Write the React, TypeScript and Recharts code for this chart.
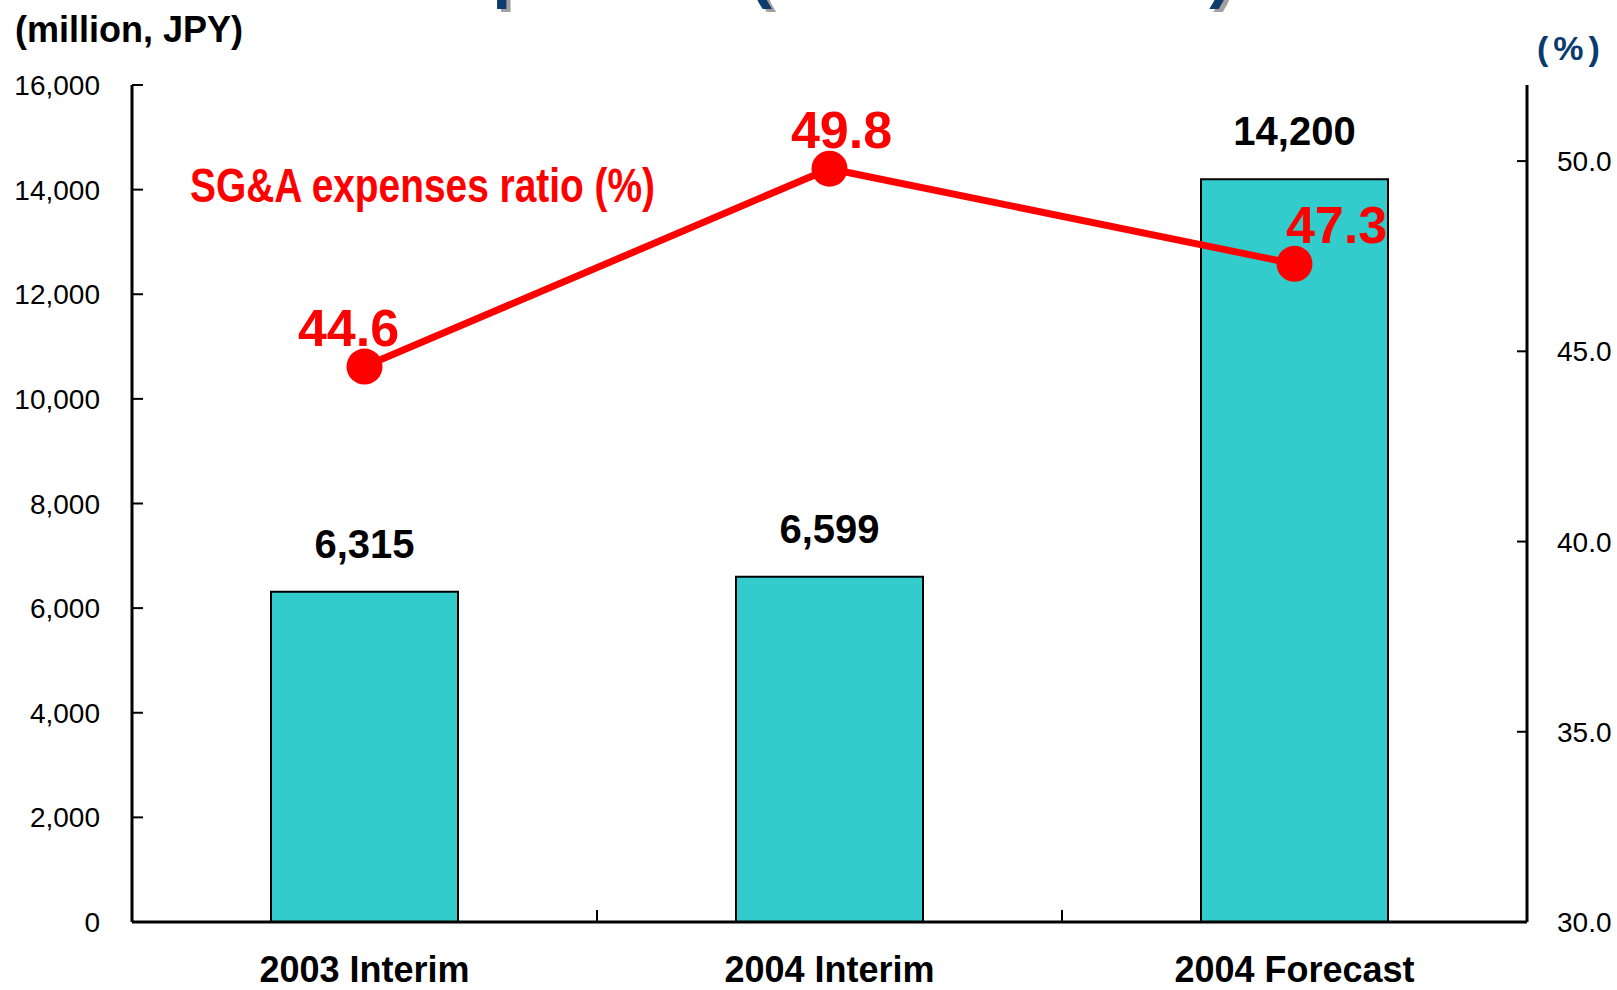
import React from 'react';
import { ComposedChart, Bar, Line, XAxis, YAxis, LabelList } from 'recharts';

const categories = ['2003 Interim', '2004 Interim', '2004 Forecast'];
const sgaExpenses = [6315, 6599, 14200];
const sgaRatio = [44.6, 49.8, 47.3];
const leftTicks = [0, 2000, 4000, 6000, 8000, 10000, 12000, 14000, 16000];
const rightTicks = [30, 35, 40, 45, 50];
const ratioLabelShift = [-16, 12, 42];

const data = categories.map((name, i) => ({
  name,
  expenses: sgaExpenses[i],
  ratio: sgaRatio[i],
}));

const FONT = '"Liberation Sans", Arial, Helvetica, sans-serif';
const NAVY = '#0B3A6E';
const RED = '#FF0000';

const fmtThousands = (v: number) => v.toLocaleString('en-US');

const LeftTick = (props: any) => {
  const { x, y, payload } = props;
  return (
    <g>
      <line x1={x} y1={y} x2={x + 11} y2={y} stroke="#000" strokeWidth={2} />
      <text x={x - 32} y={y + 10} textAnchor="end" fontSize={28} fontFamily={FONT} fill="#000">
        {fmtThousands(payload.value)}
      </text>
    </g>
  );
};

const RightTick = (props: any) => {
  const { x, y, payload } = props;
  return (
    <g>
      <line x1={x - 10} y1={y} x2={x} y2={y} stroke="#000" strokeWidth={2} />
      <text x={x + 30} y={y + 10} textAnchor="start" fontSize={28} fontFamily={FONT} fill="#000">
        {Number(payload.value).toFixed(1)}
      </text>
    </g>
  );
};

const XTick = (props: any) => {
  const { x, y, payload, index } = props;
  const off = payload && typeof payload.offset === 'number' ? payload.offset : 0;
  return (
    <g>
      {index > 0 && off > 0 ? (
        <line x1={x - off} y1={y} x2={x - off} y2={y - 12} stroke="#000" strokeWidth={2} />
      ) : null}
      <text x={x} y={y + 60} textAnchor="middle" fontSize={36} fontWeight="bold" fontFamily={FONT} fill="#000">
        {payload.value}
      </text>
    </g>
  );
};

const BarValueLabel = (props: any) => {
  const { x, y, width, value } = props;
  return (
    <text
      x={Number(x) + Number(width) / 2}
      y={Number(y) - 34}
      textAnchor="middle"
      fontSize={40}
      fontWeight="bold"
      fontFamily={FONT}
      fill="#000"
    >
      {fmtThousands(value)}
    </text>
  );
};

const RatioLabel = (props: any) => {
  const { x, y, value, index } = props;
  return (
    <text
      x={Number(x) + ratioLabelShift[index]}
      y={Number(y) - 21}
      textAnchor="middle"
      fontSize={52}
      fontWeight="bold"
      fontFamily={FONT}
      fill={RED}
    >
      {Number(value).toFixed(1)}
    </text>
  );
};

export default function App() {
  return (
    <div style={{ position: 'absolute', left: 0, top: 0, width: 1617, height: 990, background: '#fff' }}>
      <ComposedChart
        width={1617}
        height={990}
        data={data}
        margin={{ top: 85, right: 0, bottom: 0, left: 0 }}
        style={{ fontFamily: FONT }}
      >
        <defs>
          <filter id="titleShadow" x="-5%" y="-50%" width="110%" height="200%">
            <feDropShadow dx={4} dy={3} stdDeviation={0.5} floodColor="#A0A0A0" floodOpacity={1} />
          </filter>
        </defs>
        <XAxis
          dataKey="name"
          xAxisId="x"
          height={68}
          axisLine={{ stroke: '#000', strokeWidth: 3 }}
          tickLine={false}
          tickSize={0}
          tickMargin={0}
          tick={<XTick />}
          interval={0}
        />
        <YAxis
          yAxisId="left"
          orientation="left"
          width={132}
          domain={[0, 16000]}
          ticks={leftTicks}
          axisLine={{ stroke: '#000', strokeWidth: 3 }}
          tickLine={false}
          tickSize={0}
          tickMargin={0}
          tick={<LeftTick />}
          interval={0}
        />
        <YAxis
          yAxisId="right"
          orientation="right"
          width={90}
          domain={[30, 52]}
          ticks={rightTicks}
          axisLine={{ stroke: '#000', strokeWidth: 3 }}
          tickLine={false}
          tickSize={0}
          tickMargin={0}
          tick={<RightTick />}
          interval={0}
        />
        <Bar
          dataKey="expenses"
          xAxisId="x"
          yAxisId="left"
          barSize={187}
          fill="#33CCCC"
          stroke="#000"
          strokeWidth={2}
          isAnimationActive={false}
        >
          <LabelList dataKey="expenses" content={<BarValueLabel />} />
        </Bar>
        <Line
          dataKey="ratio"
          xAxisId="x"
          yAxisId="right"
          type="linear"
          stroke={RED}
          strokeWidth={7}
          dot={{ r: 18, fill: RED, stroke: RED, strokeWidth: 0 }}
          activeDot={false}
          isAnimationActive={false}
        >
          <LabelList dataKey="ratio" content={<RatioLabel />} />
        </Line>

        <g>
          <text x={192} y={-5} fontSize={69} fontWeight="bold" fontFamily={FONT} fill={NAVY} filter="url(#titleShadow)">
            SG&amp;A Expenses (Consolidated)
          </text>
          <text x={15} y={42} fontSize={36} fontWeight="bold" fontFamily={FONT} fill="#000">
            (million, JPY)
          </text>
          <text x={1537} y={60} fontSize={34} fontWeight="bold" fontFamily={FONT} fill={NAVY} letterSpacing={5}>
            (%)
          </text>
          <text
            transform="translate(190,202) scale(0.81,1)"
            fontSize={48}
            fontWeight="bold"
            fontFamily={FONT}
            fill={RED}
          >
            SG&amp;A expenses ratio (%)
          </text>
        </g>
      </ComposedChart>
    </div>
  );
}
